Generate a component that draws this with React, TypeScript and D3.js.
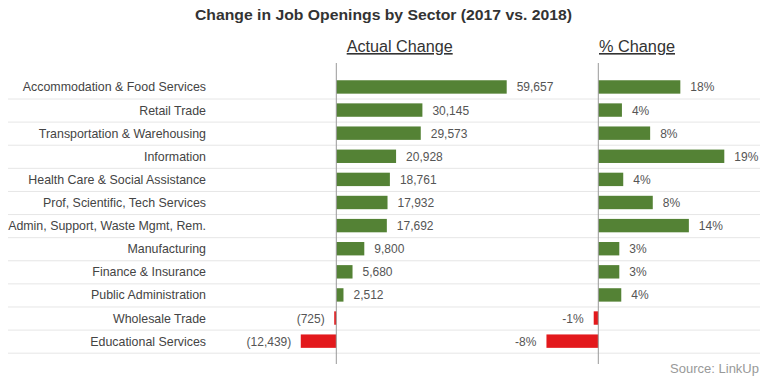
import { useEffect, useRef } from "react";
import * as d3 from "d3";

const sectors = [
  "Accommodation & Food Services",
  "Retail Trade",
  "Transportation & Warehousing",
  "Information",
  "Health Care & Social Assistance",
  "Prof, Scientific, Tech Services",
  "Admin, Support, Waste Mgmt, Rem.",
  "Manufacturing",
  "Finance & Insurance",
  "Public Administration",
  "Wholesale Trade",
  "Educational Services",
];

const actualChange = [59657, 30145, 29573, 20928, 18761, 17932, 17692, 9800, 5680, 2512, -725, -12439];

// bar lengths as drawn in the source graphic (labels are the published rounded values)
const pctChange = [12.5, 3.6, 7.9, 19.2, 3.8, 8.3, 13.8, 3.2, 3.2, 3.5, -0.7, -7.9];
const pctLabels = ["18%", "4%", "8%", "19%", "4%", "8%", "14%", "3%", "3%", "4%", "-1%", "-8%"];

const GREEN = "#548235";
const RED = "#e3191c";
const FONT = "'Liberation Sans', Arial, Helvetica, sans-serif";

export default function App() {
  const ref = useRef<SVGSVGElement>(null);

  useEffect(() => {
    if (!ref.current) return;
    const svg = d3.select(ref.current);
    svg.selectAll("*").remove();

    const width = 768;

    const y = d3
      .scaleBand<string>()
      .domain(sectors)
      .range([75.4, 352.7])
      .paddingInner(0.42)
      .paddingOuter(0.21);
    const step = y.step();
    const pad = (step - y.bandwidth()) / 2;

    const xA = d3.scaleLinear().domain([0, 59657]).range([336.3, 506.7]);
    const xP = d3.scaleLinear().domain([0, 19.2]).range([598.3, 724.3]);

    // Title
    svg
      .append("text")
      .attr("x", 195)
      .attr("y", 19.5)
      .attr("textLength", 377)
      .attr("lengthAdjust", "spacingAndGlyphs")
      .attr("fill", "#333")
      .style("font-family", FONT)
      .style("font-weight", "bold")
      .style("font-size", "15.5px")
      .text("Change in Job Openings by Sector (2017 vs. 2018)");

    // Column headers
    [
      { label: "Actual Change", x: 346.7, w: 106 },
      { label: "% Change", x: 599, w: 76 },
    ].forEach((h) => {
      svg
        .append("text")
        .attr("x", h.x)
        .attr("y", 52)
        .attr("textLength", h.w)
        .attr("lengthAdjust", "spacingAndGlyphs")
        .attr("fill", "#333")
        .attr("text-decoration", "underline")
        .style("font-family", FONT)
        .style("font-size", "16px")
        .text(h.label);
    });

    // Row separators
    svg
      .selectAll(".sep")
      .data(sectors)
      .enter()
      .append("line")
      .attr("class", "sep")
      .attr("x1", 8)
      .attr("x2", 760)
      .attr("y1", (d) => (y(d) || 0) - pad + step + 0.5)
      .attr("y2", (d) => (y(d) || 0) - pad + step + 0.5)
      .attr("stroke", "#e6e6e6")
      .attr("stroke-width", 1);

    // Sector labels
    svg
      .selectAll(".cat")
      .data(sectors)
      .enter()
      .append("text")
      .attr("class", "cat")
      .attr("x", 206)
      .attr("y", (d) => (y(d) || 0) + y.bandwidth() / 2 + 4.5)
      .attr("text-anchor", "end")
      .attr("fill", "#444")
      .style("font-family", FONT)
      .style("font-size", "12.4px")
      .text((d) => d);

    const fmt = d3.format(",");

    // Actual change bars
    svg
      .selectAll(".barA")
      .data(actualChange)
      .enter()
      .append("rect")
      .attr("class", "barA")
      .attr("x", (d) => Math.min(xA(0), xA(d)))
      .attr("y", (_, i) => y(sectors[i]) || 0)
      .attr("width", (d) => Math.abs(xA(d) - xA(0)))
      .attr("height", y.bandwidth())
      .attr("fill", (d) => (d < 0 ? RED : GREEN));

    svg
      .selectAll(".valA")
      .data(actualChange)
      .enter()
      .append("text")
      .attr("class", "valA")
      .attr("x", (d) => (d < 0 ? xA(d) - 9.5 : xA(d) + 10))
      .attr("y", (_, i) => (y(sectors[i]) || 0) + y.bandwidth() / 2 + 4.5)
      .attr("text-anchor", (d) => (d < 0 ? "end" : "start"))
      .attr("fill", "#555")
      .style("font-family", FONT)
      .style("font-size", "12px")
      .text((d) => (d < 0 ? `(${fmt(-d)})` : fmt(d)));

    // Percent change bars
    svg
      .selectAll(".barP")
      .data(pctChange)
      .enter()
      .append("rect")
      .attr("class", "barP")
      .attr("x", (d) => Math.min(xP(0), xP(d)))
      .attr("y", (_, i) => y(sectors[i]) || 0)
      .attr("width", (d) => Math.abs(xP(d) - xP(0)))
      .attr("height", y.bandwidth())
      .attr("fill", (d) => (d < 0 ? RED : GREEN));

    svg
      .selectAll(".valP")
      .data(pctChange)
      .enter()
      .append("text")
      .attr("class", "valP")
      .attr("x", (d) => (d < 0 ? xP(d) - 10 : xP(d) + 10))
      .attr("y", (_, i) => (y(sectors[i]) || 0) + y.bandwidth() / 2 + 4.5)
      .attr("text-anchor", (d) => (d < 0 ? "end" : "start"))
      .attr("fill", "#555")
      .style("font-family", FONT)
      .style("font-size", "12px")
      .text((_, i) => pctLabels[i]);

    // Zero axes
    [xA(0), xP(0)].forEach((x0) => {
      svg
        .append("line")
        .attr("x1", x0)
        .attr("x2", x0)
        .attr("y1", 63)
        .attr("y2", 364)
        .attr("stroke", "#999")
        .attr("stroke-width", 1);
    });

    // Source
    svg
      .append("text")
      .attr("x", width - 9)
      .attr("y", 373)
      .attr("text-anchor", "end")
      .attr("fill", "#999")
      .style("font-family", FONT)
      .style("font-size", "13px")
      .text("Source: LinkUp");
  }, []);

  return (
    <svg
      ref={ref}
      width={768}
      height={384}
      style={{ position: "absolute", left: 0, top: 0, background: "#fff" }}
    />
  );
}
